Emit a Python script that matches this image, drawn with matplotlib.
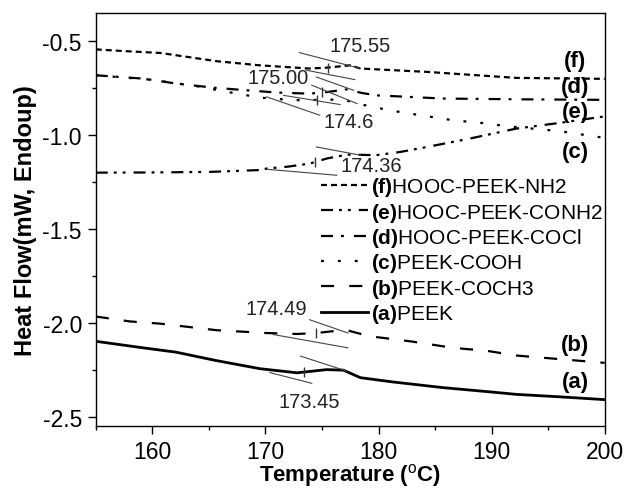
import numpy as np
import matplotlib
matplotlib.use("Agg")
import matplotlib.pyplot as plt

plt.rcParams['font.family'] = ['Liberation Sans', 'DejaVu Sans']
plt.rcParams['mathtext.fontset'] = 'custom'
plt.rcParams['mathtext.rm'] = 'Liberation Sans'
plt.rcParams['mathtext.bf'] = 'Liberation Sans:bold'
plt.rcParams['axes.unicode_minus'] = False

# ---- data ----
t_f = [155, 157.5, 160.7, 165.7, 169.5, 173.9, 175.5, 177.5, 178.4, 184.3, 192.2, 200]
v_f = [-0.543, -0.552, -0.562, -0.606, -0.628, -0.645, -0.640, -0.628, -0.645, -0.663, -0.695, -0.700]

t_e = [155, 160, 165.1, 169.6, 170.1, 172, 173.9, 175.4, 177.2, 178.4, 179.8, 181.9, 184.3, 188.1, 192.2, 196, 200]
v_e = [-1.200, -1.199, -1.196, -1.186, -1.178, -1.168, -1.152, -1.125, -1.104, -1.105, -1.107, -1.090, -1.063, -1.018, -0.965, -0.935, -0.900]

t_d = [155, 159.2, 162.1, 165.4, 167.5, 171, 173.9, 175.5, 177.2, 178.5, 179.8, 185.7, 192.2, 200]
v_d = [-0.681, -0.699, -0.725, -0.747, -0.757, -0.773, -0.779, -0.770, -0.756, -0.775, -0.788, -0.805, -0.809, -0.812]

t_c = [155, 160, 164, 166.3, 168, 169.5, 172.5, 174.8, 176.9, 178.1, 181, 183.7, 186.6, 189.6, 191, 196, 200]
v_c = [-0.681, -0.705, -0.740, -0.766, -0.784, -0.800, -0.814, -0.812, -0.810, -0.832, -0.868, -0.894, -0.921, -0.938, -0.950, -0.979, -1.015]

t_b = [155, 158, 160.7, 165.7, 170.1, 172.8, 174.5, 176, 177.2, 179.2, 182.8, 186.6, 189.6, 192.2, 200]
v_b = [-1.967, -1.993, -2.005, -2.040, -2.055, -2.060, -2.055, -2.045, -2.040, -2.072, -2.099, -2.134, -2.150, -2.175, -2.214]

t_a = [155, 159.2, 162.1, 165.5, 169.5, 172.8, 175.4, 176.9, 178.4, 181.3, 185.7, 190.1, 192.2, 196, 200]
v_a = [-2.099, -2.134, -2.157, -2.200, -2.245, -2.267, -2.250, -2.253, -2.293, -2.316, -2.346, -2.370, -2.382, -2.395, -2.410]

labels = ['(f)HOOC-PEEK-NH2', '(e)HOOC-PEEK-CONH2', '(d)HOOC-PEEK-COCl',
          '(c)PEEK-COOH', '(b)PEEK-COCH3', '(a)PEEK']
tags = ['(f)', '(e)', '(d)', '(c)', '(b)', '(a)']
tag_y = [-0.600, -0.873, -0.741, -1.085, -2.114, -2.316]

onset = [175.55, 174.36, 175.00, 174.6, 174.49, 173.45]
onset_text = ['175.55', '174.36', '175.00', '174.6', '174.49', '173.45']
onset_text_xy = [(178.4, -0.521), (179.4, -1.161), (171.1, -0.695),
                 (177.4, -0.929), (171.0, -1.924), (173.9, -2.420)]

# tangent construction lines (x0, y0, x1, y1)
tangents = [
    (173.0, -0.560, 178.4, -0.645), (173.6, -0.654, 177.9, -0.704),
    (174.5, -0.690, 177.8, -0.761), (174.1, -0.734, 178.1, -0.832),
    (170.1, -0.796, 174.8, -0.894), (171.6, -0.788, 176.6, -0.837),
    (174.5, -1.063, 178.4, -1.107), (170.1, -1.182, 176.3, -1.214),
    (173.9, -1.984, 177.3, -2.055), (170.7, -2.063, 177.3, -2.134),
    (173.1, -2.178, 177.2, -2.258), (170.4, -2.266, 174.1, -2.323),
]

curves = [(t_f, v_f), (t_e, v_e), (t_d, v_d), (t_c, v_c), (t_b, v_b), (t_a, v_a)]
styles = [(0, (2.7, 1.8)),
          (0, (5.4, 2.7, 1.3, 2.7, 1.3, 3.6)),
          (0, (5.4, 3.6, 1.3, 4.5)),
          (0, (1.3, 6.3)),
          (0, (5.9, 6.8)),
          '-']
widths = [1.6, 1.6, 1.6, 1.6, 1.6, 2.0]

fig = plt.figure(figsize=(6.26, 4.89), dpi=100)
ax = fig.add_axes([0.153, 0.127, 0.813, 0.844])

for (t, v), lab, ls, lw in zip(curves, labels, styles, widths):
    tag, rest = lab.split(')', 1)
    ax.plot(t, v, color='black', linestyle=ls, linewidth=lw,
            label=r'$\mathbf{' + tag + ')}$' + rest)

for x0, y0, x1, y1 in tangents:
    ax.plot([x0, x1], [y0, y1], color='#444444', linewidth=0.8)

for (t, v), T, txt, (tx, ty) in zip(curves, onset, onset_text, onset_text_xy):
    ax.plot([T], [np.interp(T, t, v)], marker='|', color='#333333', markersize=7)
    ax.text(tx, ty, txt, fontsize=14.5, ha='center', va='center', color='#222222')

for tg, ty in zip(tags, tag_y):
    ax.text(197.4, ty, tg, fontsize=16, fontweight='bold', ha='center', va='center')

leg = ax.legend(loc='upper left', bbox_to_anchor=(0.443, 0.607), frameon=False,
                fontsize=15, handlelength=2.25, handletextpad=0.16,
                labelspacing=0.11, borderpad=0, borderaxespad=0)

ax.set_xlim(155, 200)
ax.set_ylim(-2.55, -0.35)
ax.set_xticks([160, 170, 180, 190, 200])
ax.set_xticks(np.arange(155, 201, 5), minor=True)
ax.set_yticks([-2.5, -2.0, -1.5, -1.0, -0.5])
ax.set_yticks(np.arange(-2.5, -0.3, 0.25), minor=True)
ax.tick_params(which='major', direction='out', length=6, width=1, labelsize=16.5, pad=4)
ax.tick_params(which='minor', direction='out', length=3, width=1)
ax.tick_params(top=False, right=False)
for s in ax.spines.values():
    s.set_linewidth(1.0)

ax.set_xlabel(r'Temperature ($^\mathrm{o}$C)', fontsize=16, fontweight='bold', labelpad=-1)
ax.set_ylabel('Heat Flow(mW, Endoup)', fontsize=17, fontweight='bold', labelpad=4)

fig.savefig('out.png', dpi=100)
